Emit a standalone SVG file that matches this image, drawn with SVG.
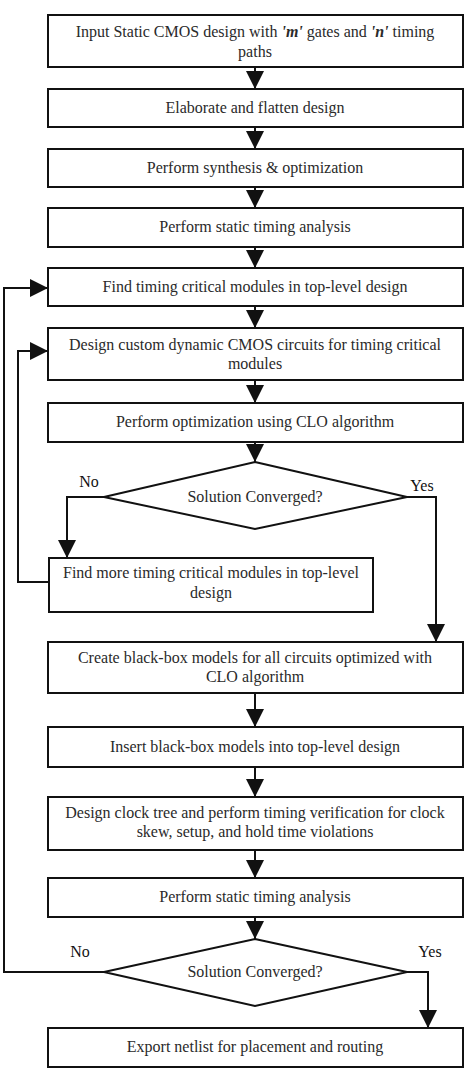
<svg xmlns="http://www.w3.org/2000/svg" width="470" height="1074" viewBox="0 0 470 1074">
<style>
.box{fill:#fff;stroke:#111;stroke-width:2}
.t{font-family:"Liberation Serif","Times New Roman","DejaVu Serif",serif;font-size:16px;fill:#2a2a2a;text-anchor:middle}
.lbl{font-family:"Liberation Serif","Times New Roman","DejaVu Serif",serif;font-size:16px;fill:#111;text-anchor:middle}
.c{fill:none;stroke:#111;stroke-width:2}
.em{font-style:italic;font-weight:bold}
</style>
<defs>
<marker id="ah" markerUnits="userSpaceOnUse" markerWidth="18" markerHeight="18" viewBox="0 0 18 18" refX="18" refY="9" orient="auto">
<path d="M0,0 L18,9 L0,18 Z" fill="#111"/>
</marker>
</defs>
<rect width="470" height="1074" fill="#fff"/>
<g id="connectors">
<line class="c" x1="255" y1="67" x2="255" y2="89" marker-end="url(#ah)"/>
<line class="c" x1="255" y1="127" x2="255" y2="149" marker-end="url(#ah)"/>
<line class="c" x1="255" y1="187" x2="255" y2="208" marker-end="url(#ah)"/>
<line class="c" x1="255" y1="247" x2="255" y2="268" marker-end="url(#ah)"/>
<line class="c" x1="255" y1="306" x2="255" y2="328" marker-end="url(#ah)"/>
<line class="c" x1="255" y1="380" x2="255" y2="403" marker-end="url(#ah)"/>
<line class="c" x1="255" y1="442" x2="255" y2="462" marker-end="url(#ah)"/>
<polyline class="c" points="104,497 67,497 67,558" marker-end="url(#ah)"/>
<polyline class="c" points="407,497 436,497 436,642" marker-end="url(#ah)"/>
<polyline class="c" points="49,582 18,582 18,351 48,351" marker-end="url(#ah)"/>
<line class="c" x1="255" y1="693" x2="255" y2="727" marker-end="url(#ah)"/>
<line class="c" x1="255" y1="767" x2="255" y2="797" marker-end="url(#ah)"/>
<line class="c" x1="255" y1="850" x2="255" y2="878" marker-end="url(#ah)"/>
<line class="c" x1="255" y1="917" x2="255" y2="939" marker-end="url(#ah)"/>
<polyline class="c" points="104,972 4,972 4,288 48,288" marker-end="url(#ah)"/>
<polyline class="c" points="407,972 428,972 428,1028" marker-end="url(#ah)"/>
<text class="lbl" x="89" y="487">No</text>
<text class="lbl" x="422" y="491">Yes</text>
<text class="lbl" x="80" y="957">No</text>
<text class="lbl" x="430" y="957">Yes</text>
</g>
<g id="n1"><rect class="box" x="48" y="15" width="415" height="52"/>
<text class="t" x="255" y="37">Input Static CMOS design with <tspan class="em">'m'</tspan> gates and <tspan class="em">'n'</tspan> timing</text>
<text class="t" x="255" y="57">paths</text></g>
<g id="n2"><rect class="box" x="48" y="89" width="415" height="38"/>
<text class="t" x="255" y="113">Elaborate and flatten design</text></g>
<g id="n3"><rect class="box" x="48" y="149" width="415" height="38"/>
<text class="t" x="255" y="173">Perform synthesis &amp; optimization</text></g>
<g id="n4"><rect class="box" x="48" y="208" width="415" height="39"/>
<text class="t" x="255" y="232">Perform static timing analysis</text></g>
<g id="n5"><rect class="box" x="48" y="268" width="415" height="38"/>
<text class="t" x="255" y="292">Find timing critical modules in top-level design</text></g>
<g id="n6"><rect class="box" x="48" y="328" width="415" height="52"/>
<text class="t" x="255" y="350">Design custom dynamic CMOS circuits for timing critical</text>
<text class="t" x="255" y="369">modules</text></g>
<g id="n7"><rect class="box" x="48" y="403" width="415" height="39"/>
<text class="t" x="255" y="427">Perform optimization using CLO algorithm</text></g>
<g id="d1"><polygon class="box" points="255,462 407,497 255,529 104,497"/>
<text class="t" x="255" y="502">Solution Converged?</text></g>
<g id="n8"><rect class="box" x="49" y="558" width="324" height="54"/>
<text class="t" x="211" y="578">Find more timing critical modules in top-level</text>
<text class="t" x="211" y="598">design</text></g>
<g id="n9"><rect class="box" x="48" y="642" width="415" height="51"/>
<text class="t" x="255" y="663">Create black-box models for all circuits optimized with</text>
<text class="t" x="255" y="682">CLO algorithm</text></g>
<g id="n10"><rect class="box" x="48" y="727" width="415" height="40"/>
<text class="t" x="255" y="752">Insert black-box models into top-level design</text></g>
<g id="n11"><rect class="box" x="48" y="797" width="415" height="53"/>
<text class="t" x="255" y="818">Design clock tree and perform timing verification for clock</text>
<text class="t" x="255" y="837">skew, setup, and hold time violations</text></g>
<g id="n12"><rect class="box" x="48" y="878" width="415" height="39"/>
<text class="t" x="255" y="902">Perform static timing analysis</text></g>
<g id="d2"><polygon class="box" points="255,939 407,972 255,1006 104,972"/>
<text class="t" x="255" y="977">Solution Converged?</text></g>
<g id="n13"><rect class="box" x="48" y="1028" width="415" height="39"/>
<text class="t" x="255" y="1052">Export netlist for placement and routing</text></g>
</svg>
